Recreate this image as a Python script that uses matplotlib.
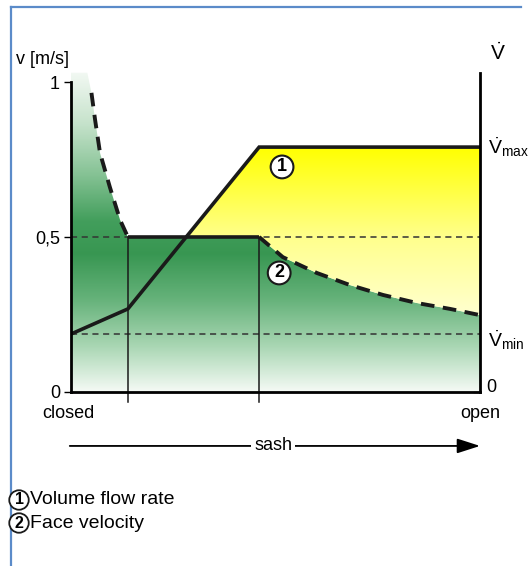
import numpy as np
import matplotlib
matplotlib.use("Agg")
import matplotlib.pyplot as plt
from matplotlib.colors import LinearSegmentedColormap
from matplotlib.lines import Line2D
from matplotlib.path import Path

plt.rcParams['font.family'] = ['Liberation Sans', 'DejaVu Sans']
plt.rcParams['mathtext.fontset'] = 'custom'
plt.rcParams['mathtext.rm'] = 'Liberation Sans'

# sash position (0 = closed, 1 = open)
fv_x = [0.0, 0.04, 0.05, 0.059, 0.071, 0.095, 0.12, 0.139,
        0.46, 0.518, 0.601, 0.682, 0.763, 0.846, 0.927, 1.0]
# face velocity [m/s]
fv_v = [1.03, 1.03, 0.965, 0.877, 0.771, 0.661, 0.555, 0.5,
        0.5, 0.435, 0.384, 0.345, 0.313, 0.287, 0.268, 0.248]

# volume flow rate (scaled to same axis)
vf_x = [0.0, 0.139, 0.46, 1.0]
vf_v = [0.187, 0.268, 0.79, 0.79]

v_max = 0.79
v_min = 0.187
marks = [0.139, 0.46]

W, H = 529, 566
fig = plt.figure(figsize=(W / 100, H / 100), dpi=100)
ax = fig.add_axes([71 / W, (H - 410.6) / H, 409 / W, 347.2 / H])
ax.set_xlim(0, 1)
ax.set_ylim(-0.06, 1.06)

green = LinearSegmentedColormap.from_list("g", [
    (0.0, (0.96, 0.98, 0.96)),
    (0.14, (0.66, 0.84, 0.70)),
    (0.28, (0.40, 0.70, 0.48)),
    (0.42, (0.22, 0.59, 0.32)),
    (0.52, (0.26, 0.62, 0.36)),
    (0.66, (0.52, 0.76, 0.58)),
    (0.82, (0.78, 0.89, 0.8)),
    (1.0, (0.98, 0.99, 0.98)),
])
yellow = LinearSegmentedColormap.from_list("y", [
    (0.0, (1, 1, 0.9)),
    (0.2, (1, 1, 0.85)),
    (0.47, (1, 1, 0.55)),
    (0.745, (1, 1, 0.0)),
    (1.0, (1, 1, 0.0)),
])
grad = np.linspace(0, 1, 256)[:, None]

# green area under face velocity
fx = np.array(fv_x)
fv = np.array(fv_v)
poly = ax.fill_between(fx, 0, fv, color="none", lw=0)
img = ax.imshow(grad, cmap=green, extent=[0, 1, 0, 1.06], origin="lower",
                aspect="auto", zorder=1)
img.set_clip_path(Path.make_compound_path(*poly.get_paths()), ax.transData)

# yellow area between flow rate and face velocity
xs = np.union1d(fx, vf_x)
f_i = np.interp(xs, fx, fv)
v_i = np.interp(xs, vf_x, vf_v)
poly2 = ax.fill_between(xs, f_i, v_i, where=v_i >= f_i, interpolate=True,
                        color="none", lw=0)
img2 = ax.imshow(grad, cmap=yellow, extent=[0, 1, 0, 1.06], origin="lower",
                 aspect="auto", zorder=1)
img2.set_clip_path(Path.make_compound_path(*poly2.get_paths()), ax.transData)
ax.set_xlim(0, 1)
ax.set_ylim(-0.06, 1.06)

# reference dashed lines
for yv in [0.5, v_min]:
    ax.plot([0, 1], [yv, yv], color="#333333", lw=1.1, ls=(0, (4, 3)), zorder=2)

# vertical markers
for m in marks:
    ax.plot([m, m], [-0.032, 0.5], color="#1a1a1a", lw=1.1, zorder=3, clip_on=False)

# face velocity
flat = (fx >= 0.139) & (fx <= 0.46)
ax.plot(fx[flat], fv[flat], color="#1a1a1a", lw=2.6, zorder=4, solid_capstyle="butt")
ax.plot(fx[2:8], fv[2:8], color="#1a1a1a", lw=2.8, ls=(0, (3.5, 2.2)), zorder=4)
ax.plot(fx[8:], fv[8:], color="#1a1a1a", lw=2.8, ls=(0, (3.5, 2.2)), zorder=4)

# volume flow rate
ax.plot(vf_x, vf_v, color="#1a1a1a", lw=2.6, zorder=5, solid_joinstyle="miter")

# axes
ax.spines["top"].set_visible(False)
ax.spines["bottom"].set_position(("data", 0))
ax.spines["left"].set_bounds(0, 1)
ax.spines["right"].set_bounds(0, 1.03)
ax.spines["bottom"].set_bounds(0, 1)
for s in ["left", "right", "bottom"]:
    ax.spines[s].set_linewidth(2)
    ax.spines[s].set_zorder(6)
ax.set_xticks([])
ax.set_yticks([0, 0.5, 1])
ax.set_yticklabels(["0", "0,5", "1"], fontsize=13)
ax.tick_params(axis="y", length=5, width=1, pad=3)

# circled markers
circ = dict(boxstyle="circle,pad=0.16", fc="white", ec="#1a1a1a", lw=1.5)
ax.text(0.516, 0.726, "1", fontsize=13, fontweight="bold", ha="center",
        va="center", bbox=circ, zorder=7)
ax.text(0.509, 0.384, "2", fontsize=13, fontweight="bold", ha="center",
        va="center", bbox=circ, zorder=7)

# right axis labels
ax.text(1.02, v_max, r"$\dot{\mathrm{V}}_{\mathrm{max}}$", fontsize=14,
        ha="left", va="center")
ax.text(1.02, v_min - 0.02, r"$\dot{\mathrm{V}}_{\mathrm{min}}$", fontsize=14,
        ha="left", va="center")
ax.text(1.015, 0.015, "0", fontsize=13, ha="left", va="center")
ax.plot([0.985, 1.0], [0, 0], color="#1a1a1a", lw=1, clip_on=False, zorder=6)

ax.text(-0.135, 1.071, "v [m/s]", fontsize=13, ha="left", va="center",
        clip_on=False)
ax.text(1.045, 1.095, r"$\dot{\mathrm{V}}$", fontsize=15, ha="center", va="center")

ax.text(-0.007, -0.068, "closed", fontsize=13, ha="center", va="center")
ax.text(1.0, -0.068, "open", fontsize=13, ha="center", va="center")

# sash arrow
ax.annotate("", xy=(1.0, -0.174), xytext=(-0.003, -0.174),
            arrowprops=dict(arrowstyle="-|>,head_length=1.4,head_width=0.45",
                            color="black", lw=1.3, shrinkA=0, shrinkB=0),
            annotation_clip=False)
ax.text(0.494, -0.174, "sash", fontsize=13, ha="center", va="center",
        bbox=dict(fc="white", ec="none", pad=2))

# legend
lcirc = dict(boxstyle="circle,pad=0.14", fc="white", ec="#1a1a1a", lw=1.3)
fig.text(19 / W, 1 - 500 / H, "1", fontsize=11.5, fontweight="bold",
         ha="center", va="center", bbox=lcirc)
fig.text(30 / W, 1 - 500 / H, "Volume flow rate", fontsize=14, ha="left", va="center")
fig.text(19 / W, 1 - 523 / H, "2", fontsize=11.5, fontweight="bold",
         ha="center", va="center", bbox=lcirc)
fig.text(30 / W, 1 - 523 / H, "Face velocity", fontsize=14, ha="left", va="center")

# frame
border = "#5b8bc9"
fig.add_artist(Line2D([11 / W, 521 / W], [1 - 7 / H, 1 - 7 / H], color=border, lw=1.6))
fig.add_artist(Line2D([11 / W, 11 / W], [1 - 7 / H, 0], color=border, lw=1.6))

fig.savefig("out.png", dpi=100)
